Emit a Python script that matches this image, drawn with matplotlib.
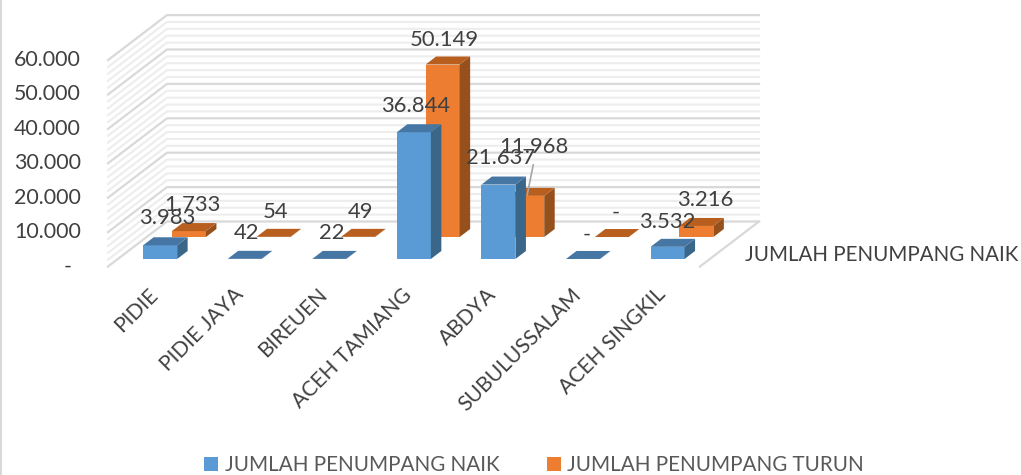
#!/usr/bin/env python3
"""Penumpang naik/turun per kabupaten, 3D style column chart"""

import matplotlib
matplotlib.use("Agg")
import matplotlib.pyplot as plt
from matplotlib.patches import Polygon, Patch

categories = ["PIDIE", "PIDIE JAYA", "BIREUEN", "ACEH TAMIANG", "ABDYA",
              "SUBULUSSALAM", "ACEH SINGKIL"]
naik = [3983, 42, 22, 36844, 21637, 0, 3532]
turun = [1733, 54, 49, 50149, 11968, 0, 3216]
naik_labels = ["3.983", "42", "22", "36.844", "21.637", "-", "3.532"]
turun_labels = ["1.733", "54", "49", "50.149", "11.968", "-", "3.216"]
y_ticks = [0, 10000, 20000, 30000, 40000, 50000, 60000]
y_tick_labels = ["-", "10.000", "20.000", "30.000", "40.000", "50.000", "60.000"]
series_names = ["JUMLAH PENUMPANG NAIK", "JUMLAH PENUMPANG TURUN"]

# Oblique projection, everything ends up in image pixels
FLOOR_LEFT = 108.0
FLOOR_FRONT = 266.5
WIDTH = 592.0
DEPTH_X = 59.0
DEPTH_Y = 45.0
PX_PER_UNIT = 34.4 / 10000
BAR_W = 34.0 / (WIDTH / 7)
BAR_D = 0.178

BLUE = ("#5B9BD5", "#4676A3", "#3A6689")
ORANGE = ("#ED7D31", "#B85F20", "#96501C")
TEXT = "#404040"

plt.rcParams["font.family"] = ["Lato", "DejaVu Sans"]


def project(cat, depth, value=0.0):
    """cat in category units, depth 0..1 front to back"""
    x = FLOOR_LEFT + cat * WIDTH / 7 + depth * DEPTH_X
    y = FLOOR_FRONT - depth * DEPTH_Y - value * PX_PER_UNIT
    return x, y


def draw_bar(ax, i, value, depth, colors):
    left = i + (1 - BAR_W) / 2
    right = left + BAR_W
    back = depth + BAR_D
    front_face = [project(left, depth), project(right, depth),
                  project(right, depth, value), project(left, depth, value)]
    side_face = [project(right, depth), project(right, back),
                 project(right, back, value), project(right, depth, value)]
    top_face = [project(left, depth, value), project(right, depth, value),
                project(right, back, value), project(left, back, value)]
    ax.add_patch(Polygon(front_face, facecolor=colors[0], edgecolor="none", zorder=3))
    ax.add_patch(Polygon(side_face, facecolor=colors[2], edgecolor="none", zorder=3))
    ax.add_patch(Polygon(top_face, facecolor=colors[1], edgecolor="none", zorder=3))


fig = plt.figure(figsize=(10.21, 4.75), dpi=100)
ax = fig.add_axes([0, 0, 1, 1])
ax.set_xlim(0, 1021)
ax.set_ylim(475, 0)
ax.axis("off")

# Chart frame, only its left edge is inside the crop
ax.axvline(1, color="#D9D9D9", lw=1.5)

# Walls and gridlines
for v in range(0, 60001, 2000):
    major = v % 10000 == 0
    color = "#D9D9D9" if major else "#EDEDED"
    lw = 1.6 if major else 1.5
    x0, y0 = project(0, 0, v)
    x1, y1 = project(0, 1, v)
    x2, y2 = project(7, 1, v)
    ax.plot([x0, x1, x2], [y0, y1, y2], color=color, lw=lw, zorder=2 if major else 1)
x0, y0 = project(7, 1)
x1, y1 = project(7, 0)
ax.plot([x0, x1], [y0, y1], color="#D9D9D9", lw=1.6, zorder=2)

# Back row first so the front row covers it
for i in range(len(categories)):
    draw_bar(ax, i, turun[i], 0.655, ORANGE)
    draw_bar(ax, i, naik[i], 0.167, BLUE)

# Data labels, a few were moved by hand in the original
naik_shift = {0: (7, -27), 4: (2, -27), 5: (4, -24), 6: (0, -25)}
turun_shift = {0: (3, -26), 4: (7, -49), 5: (4, -24), 6: (9, -26)}
for i in range(len(categories)):
    x, y = project(i + 0.5, 0.167, naik[i])
    dx, dy = naik_shift.get(i, (2, -26))
    ax.text(x + dx, y + dy, naik_labels[i], ha="center", va="center",
            fontsize=15.8, color=TEXT, zorder=5)
    x, y = project(i + 0.5, 0.655, turun[i])
    dx, dy = turun_shift.get(i, (2, -25))
    ax.text(x + dx, y + dy, turun_labels[i], ha="center", va="center",
            fontsize=15.8, color=TEXT, zorder=5)

# Leader line of the moved ABDYA label
x, y = project(4.5, 0.655, turun[4])
ax.plot([x + 6, x], [y - 31, y - 1], color="#A6A6A6", lw=1.2, zorder=4)

for v, lab in zip(y_ticks, y_tick_labels):
    x, y = project(0, 0, v)
    ax.text(x - 27 if v else x - 36, y, lab, ha="right", va="center",
            fontsize=15.4, color=TEXT)

for i, name in enumerate(categories):
    x, y = project(i + 0.5, 0)
    ax.text(x + 5, y + 25, name, rotation=45, rotation_mode="anchor", ha="right",
            va="center", fontsize=15.2, color=TEXT)

ax.text(745, 255, series_names[0], ha="left", va="center", fontsize=14.8, color=TEXT)

handles = [Patch(facecolor=BLUE[0], label=series_names[0]),
           Patch(facecolor=ORANGE[0], label=series_names[1])]
ax.legend(handles=handles, loc="center", bbox_to_anchor=(534 / 1021, 1 - 465 / 475),
          ncols=2, frameon=False, fontsize=14.9, labelcolor="#595959", handlelength=0.7,
          handleheight=0.7, handletextpad=0.3, columnspacing=2.3,
          borderpad=0, borderaxespad=0)

fig.savefig("out.png", dpi=100)
